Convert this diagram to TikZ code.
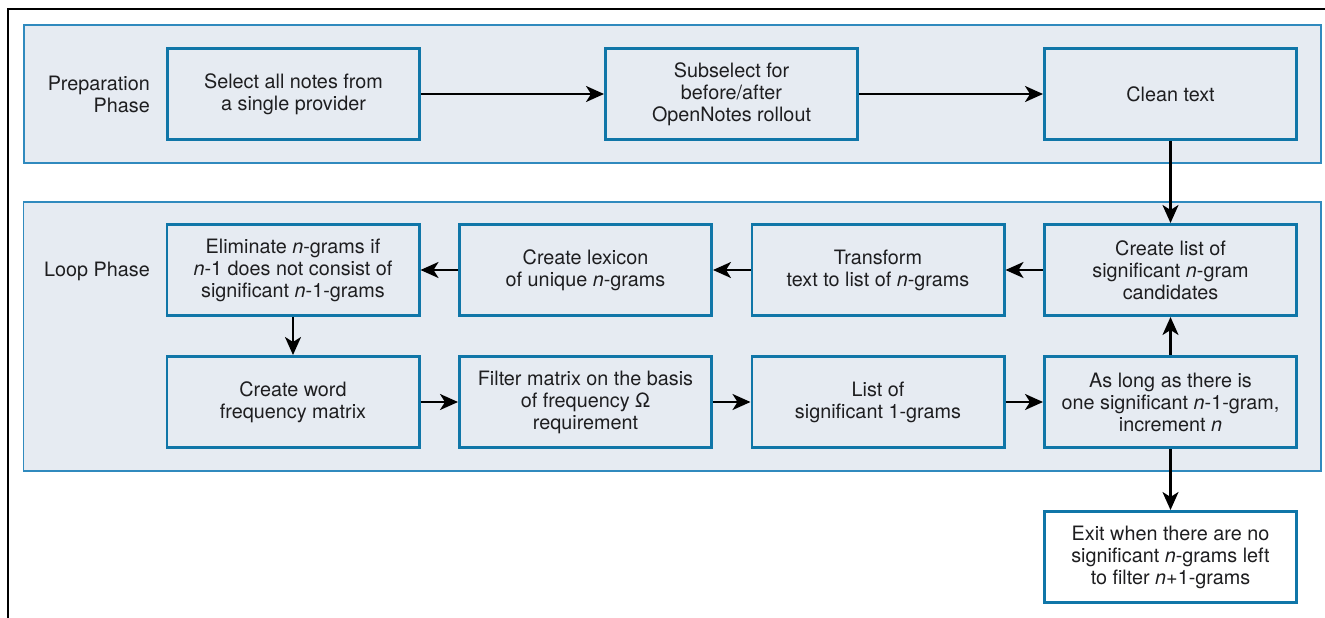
\documentclass[tikz,border=0pt]{standalone}
\usepackage{fontspec}
\setmainfont{TeX Gyre Heros}
\usetikzlibrary{positioning, calc, arrows.meta, backgrounds}
\definecolor{boxblue}{RGB}{16, 118, 168}
\definecolor{panelblue}{RGB}{48, 138, 190}
\definecolor{panelfill}{RGB}{230, 235, 242}
\definecolor{ink}{RGB}{30, 30, 32}

\begin{document}
\begin{tikzpicture}[
            x=1pt, y=-1pt,
            node distance=38pt and 37.5pt,
            stepbox/.style={draw=boxblue, line width=2.6pt, fill=panelfill, align=center, text=ink, font=\fontsize{19.8}{22}\selectfont, minimum width=252.4pt, minimum height=91.4pt, inner sep=0pt},
            phaselabel/.style={align=right, anchor=east, inner sep=0pt, text=ink, font=\fontsize{19.8}{22}\selectfont},
            panel/.style={draw=panelblue, line width=1.8pt, fill=panelfill},
            arrow/.style={-{Stealth[length=18pt, width=16pt, inset=5pt]}, line width=2.3pt, black}
        ]
            \useasboundingbox (0,0) rectangle (1325,618);
            \draw [line width=1.3pt] (8,618) -- (8,9) -- (1325,9);

            \node[phaselabel] (prep) at (150,94) {Preparation\\Phase};
            \node[phaselabel] (loop) at (150,271) {Loop Phase};

            \node[stepbox] (select) at (293.5,94) {Select all notes from\\a single provider};
            \node[stepbox, right=183pt of select] (subselect) {Subselect for\\before/after\\OpenNotes rollout};
            \node[stepbox, right=184pt of subselect] (clean) {Clean text};

            \node[stepbox, below=82pt of clean] (cands) {Create list of\\significant \textit{n}-gram\\candidates};
            \node[stepbox, left=of cands] (transform) {Transform\\text to list of \textit{n}-grams};
            \node[stepbox, left=of transform] (lexicon) {Create lexicon\\of unique \textit{n}-grams};
            \node[stepbox, left=of lexicon] (elim) {Eliminate \textit{n}-grams if\\\textit{n}-1 does not consist of\\significant \textit{n}-1-grams};
            \node[stepbox, below=of elim] (matrix) {Create word\\frequency matrix};
            \node[stepbox, right=of matrix] (filter) {Filter matrix on the basis\\of frequency Ω\\requirement};
            \node[stepbox, right=of filter] (onegrams) {List of\\significant 1-grams};
            \node[stepbox, right=of onegrams] (increment) {As long as there is\\one significant \textit{n}-1-gram,\\increment \textit{n}};
            \node[stepbox, fill=white, below=61pt of increment] (exit) {Exit when there are no\\significant \textit{n}-grams left\\to filter \textit{n}+1-grams};

            \begin{scope}[on background layer]
                \draw [panel] ($(select.north west)+(-142,-22)$) rectangle ($(clean.south east)+(23,22)$);
                \draw [panel] ($(elim.north west)+(-142,-21)$) rectangle ($(increment.south east)+(23,22)$);
            \end{scope}

            \draw [arrow] (select) -- (subselect);
            \draw [arrow] (subselect) -- (clean);
            \draw [arrow] (clean) -- (cands);
            \draw [arrow] (cands) -- (transform);
            \draw [arrow] (transform) -- (lexicon);
            \draw [arrow] (lexicon) -- (elim);
            \draw [arrow] (elim) -- (matrix);
            \draw [arrow] (matrix) -- (filter);
            \draw [arrow] (filter) -- (onegrams);
            \draw [arrow] (onegrams) -- (increment);
            \draw [arrow] (increment) -- (cands);
            \draw [arrow] (increment) -- (exit);
        \end{tikzpicture}
\end{document}
